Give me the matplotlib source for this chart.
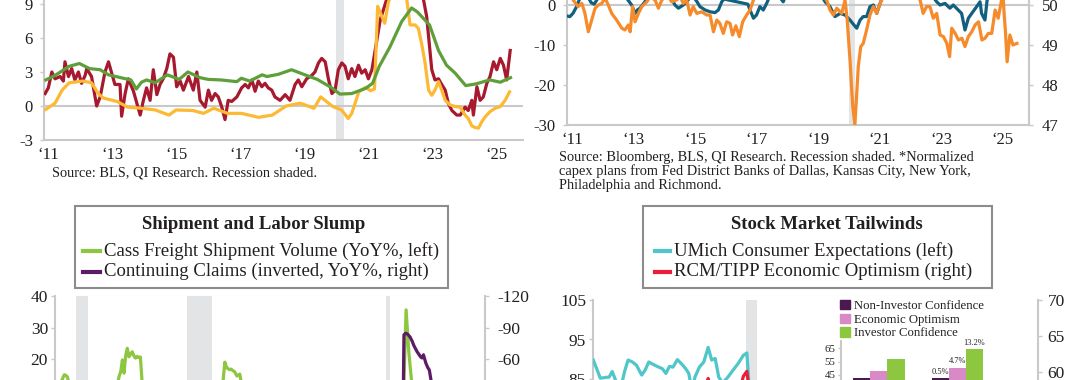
import matplotlib
matplotlib.use('Agg')
import matplotlib.pyplot as plt
from matplotlib.patches import Rectangle, Patch
from matplotlib.lines import Line2D

plt.rcParams['font.family'] = ['Liberation Serif', 'DejaVu Serif']
plt.rcParams['axes.unicode_minus'] = False

# ---------------- data ----------------
# top left panel (YoY %, recession shaded)
red_x = [2010.91, 2011.01, 2011.12, 2011.22, 2011.38, 2011.48, 2011.53, 2011.64, 2011.74, 2011.84,
         2011.95, 2012.05, 2012.16, 2012.21, 2012.36, 2012.52, 2012.63, 2012.78, 2012.89, 2012.99,
         2013.09, 2013.25, 2013.30, 2013.41, 2013.51, 2013.67, 2013.88, 2013.98, 2014.08, 2014.19,
         2014.29, 2014.40, 2014.50, 2014.60, 2014.71, 2014.81, 2014.92, 2015.02, 2015.13, 2015.23,
         2015.39, 2015.54, 2015.65, 2015.75, 2015.91, 2016.01, 2016.11, 2016.22, 2016.32, 2016.43,
         2016.53, 2016.63, 2016.74, 2016.90, 2017.05, 2017.16, 2017.26, 2017.37, 2017.47, 2017.57,
         2017.68, 2017.78, 2017.88, 2017.99, 2018.09, 2018.25, 2018.41, 2018.56, 2018.72, 2018.82,
         2018.93, 2019.08, 2019.24, 2019.34, 2019.45, 2019.55, 2019.66, 2019.76, 2019.87, 2019.97,
         2020.07, 2020.18, 2020.28, 2020.38, 2020.49, 2020.59, 2020.70, 2020.80, 2020.91, 2021.01,
         2021.12, 2021.22, 2021.38, 2021.48, 2021.58, 2021.70, 2021.90, 2022.10, 2022.30, 2022.50,
         2022.65, 2022.73, 2022.83, 2022.99, 2023.09, 2023.20, 2023.30, 2023.41, 2023.51, 2023.62,
         2023.77, 2023.88, 2024.03, 2024.13, 2024.24, 2024.29, 2024.40, 2024.50, 2024.60, 2024.71,
         2024.81, 2024.92, 2025.02, 2025.13, 2025.23, 2025.33, 2025.44]
red_y = [1.1, 1.6, 3.0, 2.4, 2.6, 2.2, 3.9, 2.6, 3.3, 2.3,
         3.0, 2.0, 2.7, 3.3, 2.6, 0.0, 0.8, 3.0, 3.9, 2.9,
         1.9, 1.9, -0.9, 1.1, 2.4, 1.3, -0.8, 0.5, 1.6, 0.5,
         3.2, 1.0, 1.9, 2.4, 3.3, 4.6, 4.3, 1.7, 2.2, 1.4,
         2.6, 1.4, 3.0, 0.5, -0.1, 1.4, 0.5, 1.1, 0.8, -0.1,
         -1.2, 0.5, 0.4, 0.8, 1.6, 1.9, 1.6, 2.3, 1.3, 2.2,
         1.7, 2.0, 1.6, 1.4, 0.8, 0.5, 1.0, 0.5, 1.9, 2.3,
         1.7, 2.4, 2.7, 3.0, 3.8, 4.2, 3.9, 2.4, 1.1, 1.4,
         3.2, 3.8, 3.5, 2.4, 3.3, 2.6, 3.6, 2.9, 3.2, 2.4,
         3.2, 4.9, 7.6, 8.5, 9.4, 10.6, 11.3, 11.8, 11.2, 10.6,
         9.8, 9.4, 7.9, 3.2, 2.3, 2.4, 1.9, 1.4, 0.2, -0.4,
         -0.8, -0.8, -0.1, -0.4, 0.5, -0.8, 1.7, 0.5, 0.8, 2.0,
         2.6, 3.9, 3.2, 4.2, 3.6, 2.3, 4.9]

green_x = [2010.93, 2011.22, 2011.66, 2011.98, 2012.30, 2012.63, 2012.89, 2013.27, 2013.59, 2013.76,
           2013.92, 2014.08, 2014.35, 2014.73, 2015.10, 2015.37, 2015.75, 2016.00, 2016.40, 2016.90,
           2017.04, 2017.30, 2017.69, 2017.84, 2018.20, 2018.61, 2018.98, 2019.41, 2019.84, 2020.12,
           2020.49, 2020.92, 2021.14, 2021.35, 2021.68, 2022.05, 2022.36, 2022.54, 2022.92, 2023.20,
           2023.45, 2023.72, 2024.05, 2024.37, 2024.80, 2025.13, 2025.45]
green_y = [2.3, 2.7, 3.5, 3.75, 3.3, 3.2, 2.75, 2.5, 2.3, 1.5,
           2.1, 2.3, 2.05, 2.75, 2.35, 3.0, 2.5, 2.35, 2.3, 2.15,
           2.45, 2.2, 2.75, 2.6, 2.8, 3.2, 2.8, 2.35, 1.65, 1.05,
           1.1, 1.55, 2.0, 3.5, 5.2, 7.45, 8.65, 8.3, 7.15, 4.9,
           3.6, 2.9, 1.8, 1.95, 2.3, 2.1, 2.5]

yellow_x = [2010.93, 2011.22, 2011.44, 2011.66, 2012.09, 2012.36, 2012.57, 2012.73, 2013.16, 2013.49,
            2013.92, 2014.35, 2014.78, 2015.00, 2015.53, 2015.86, 2016.18, 2016.61, 2017.04, 2017.58,
            2018.01, 2018.44, 2018.88, 2019.31, 2019.52, 2019.90, 2020.17, 2020.38, 2020.49, 2020.71,
            2020.92, 2021.08, 2021.20, 2021.30, 2021.43, 2021.52, 2021.63, 2021.80, 2022.00, 2022.15,
            2022.21, 2022.31, 2022.47, 2022.57, 2022.68, 2022.78, 2022.89, 2022.99, 2023.09, 2023.20,
            2023.30, 2023.41, 2023.56, 2023.72, 2023.88, 2024.03, 2024.13, 2024.24, 2024.34, 2024.45,
            2024.55, 2024.66, 2024.81, 2024.97, 2025.13, 2025.28, 2025.42]
yellow_y = [-0.3, 0.25, 1.4, 2.05, 2.2, 2.05, 1.1, 0.7, 0.4, -0.1,
            -0.2, -0.35, -0.8, -0.35, -0.4, -0.65, -0.2, -0.65, -0.65, -1.0,
            -0.8, 0.0, 0.25, -0.2, 0.8, -0.05, -0.35, -1.1, -0.65, 1.25,
            1.65, 1.35, 1.5, 8.8, 7.9, 7.3, 9.1, 10.5, 11.5, 10.4,
            9.4, 7.15, 7.15, 6.85, 5.4, 3.8, 1.4, 0.95, 1.4, 2.15,
            1.4, 0.5, 0.1, -0.05, -0.1, -0.8, -1.1, -1.75, -1.9, -1.95,
            -1.4, -0.95, -0.5, -0.2, -0.05, 0.5, 1.25]

# top right panel: capex plans and second survey (both read on the left scale)
capex_x = [2010.84, 2010.93, 2011.03, 2011.15, 2011.26, 2011.45, 2011.62, 2011.72, 2011.85, 2012.10,
           2012.40, 2012.70, 2012.94, 2013.05, 2013.13, 2013.21, 2013.37, 2013.60, 2013.90, 2014.20,
           2014.35, 2014.46, 2014.62, 2014.73, 2014.90, 2015.05, 2015.16, 2015.33, 2015.49, 2015.65,
           2015.76, 2015.87, 2016.10, 2016.40, 2016.60, 2016.72, 2016.79, 2016.90, 2017.00, 2017.11,
           2017.22, 2017.33, 2017.50, 2017.75, 2017.87, 2018.00, 2018.40, 2018.80, 2019.10, 2019.23,
           2019.39, 2019.55, 2019.72, 2019.88, 2020.04, 2020.17, 2020.26, 2020.37, 2020.47, 2020.58,
           2020.69, 2020.80, 2020.91, 2021.02, 2021.20, 2021.60, 2022.00, 2022.40, 2022.70, 2022.86,
           2022.97, 2023.13, 2023.29, 2023.40, 2023.56, 2023.67, 2023.78, 2023.89, 2024.00, 2024.16,
           2024.27, 2024.32, 2024.43, 2024.50, 2024.70, 2025.00, 2025.20, 2025.45]
capex_y = [-2.75, -2.9, -2.1, -0.4, 1.8, 3.0, 0.6, 0.2, 1.8, 4.0,
           4.5, 2.5, 0.0, -2.1, -1.2, -0.8, 0.8, 3.5, 4.0, 2.0,
           0.0, -0.8, 0.0, 0.8, 2.5, 1.0, -0.4, -1.25, -1.7, -1.9,
           -1.25, 0.8, 3.0, 2.5, 1.5, 0.2, -1.25, -3.3, -2.5, -0.4,
           -1.25, 0.4, 3.5, 2.0, 0.8, 3.5, 7.0, 6.0, 2.5, 0.8,
           -0.4, -2.9, -2.1, -2.5, -3.75, -5.0, -5.8, -3.75, -2.9, -2.9,
           -0.4, 0.0, -2.1, 0.4, 4.0, 9.0, 10.0, 7.0, 2.5, 0.8,
           0.0, 0.4, -0.8, 0.0, -1.25, -2.1, -6.25, -3.3, -2.1, -0.4,
           0.8, -2.1, -3.75, 1.25, 4.0, 5.0, 3.0, 4.0]

survey_x = [2011.04, 2011.20, 2011.32, 2011.42, 2011.53, 2011.64, 2011.75, 2011.86, 2011.97, 2012.07,
            2012.18, 2012.29, 2012.45, 2012.62, 2012.72, 2012.83, 2012.89, 2012.97, 2013.05, 2013.16,
            2013.27, 2013.43, 2013.54, 2013.70, 2013.81, 2013.92, 2014.10, 2014.24, 2014.40, 2014.52,
            2014.62, 2014.73, 2014.84, 2014.94, 2015.06, 2015.22, 2015.38, 2015.49, 2015.60, 2015.71,
            2015.81, 2015.92, 2016.03, 2016.14, 2016.22, 2016.33, 2016.44, 2016.55, 2016.68, 2016.79,
            2016.90, 2017.10, 2017.50, 2018.00, 2018.50, 2019.00, 2019.20, 2019.28, 2019.39, 2019.50,
            2019.61, 2019.77, 2019.88, 2019.95, 2020.04, 2020.13, 2020.20, 2020.31, 2020.39, 2020.47,
            2020.58, 2020.69, 2020.80, 2020.91, 2021.02, 2021.07, 2021.30, 2021.80, 2022.10, 2022.32,
            2022.42, 2022.53, 2022.64, 2022.75, 2022.86, 2022.97, 2023.08, 2023.19, 2023.28, 2023.35,
            2023.46, 2023.57, 2023.68, 2023.78, 2023.89, 2024.00, 2024.11, 2024.22, 2024.33, 2024.43,
            2024.54, 2024.65, 2024.76, 2024.86, 2024.97, 2025.02, 2025.06, 2025.10, 2025.15, 2025.24,
            2025.34, 2025.47]
survey_y = [1.25, -0.4, 0.4, -2.1, -6.7, -3.75, -0.8, 0.0, 0.4, 1.8,
            0.0, -2.1, -3.75, -5.8, -6.25, -5.0, -6.7, -0.4, -4.2, -2.1,
            -0.4, 0.8, 2.0, 1.25, -0.8, 1.25, 2.5, 0.8, 1.25, 2.0,
            0.4, 1.25, -2.5, -0.4, -2.1, -1.7, -2.5, -2.5, -6.7, -3.75,
            -4.6, -7.1, -4.2, -4.6, -7.5, -5.2, -7.9, -4.2, -2.5, -1.25,
            1.25, 3.5, 4.5, 5.0, 4.0, 2.5, 1.8, 1.25, -1.25, -2.5,
            -0.8, -2.1, 1.25, -3.75, -13.75, -25.4, -30.0, -15.4, -10.4, -9.6,
            -6.25, -2.5, -0.4, -2.1, 0.4, 1.25, 4.0, 6.0, 3.5, 1.25,
            -2.1, -0.4, -0.4, -3.3, -2.1, -7.5, -7.9, -9.6, -12.9, -5.8,
            -7.1, -8.75, -8.3, -10.4, -7.9, -6.7, -5.0, -4.2, -8.75, -8.3,
            -7.1, -7.1, -1.25, -3.3, 1.25, 2.0, -2.9, -7.1, -14.2, -7.5,
            -10.0, -9.6]

# bottom left: Shipment and Labor Slump
cass_x = [1999.9, 2000.1, 2000.3, 2000.45, 2000.55, 2000.65, 2000.8, 2001.0, 2001.5, 2002.0,
          2002.5, 2003.0, 2003.5, 2003.7, 2003.8, 2003.9, 2004.0, 2004.1, 2004.2, 2004.3,
          2004.4, 2004.5, 2004.6, 2004.7, 2004.8, 2004.9, 2005.0, 2005.1, 2005.2, 2005.35,
          2005.7, 2006.2, 2006.8, 2007.5, 2008.2, 2008.8, 2009.3, 2009.8, 2010.0, 2010.15,
          2010.26, 2010.35, 2010.43, 2010.55, 2010.63, 2010.75, 2010.85, 2011.0, 2011.17, 2011.3,
          2011.6, 2012.2, 2013.0, 2013.8, 2014.5, 2015.3, 2016.0, 2016.8, 2017.6, 2018.3,
          2019.0, 2019.7, 2020.1, 2020.35, 2020.7, 2021.0, 2021.2, 2021.33, 2021.5, 2021.7,
          2022.0, 2022.6, 2023.2, 2023.8, 2024.4, 2025.0, 2025.45]
cass_y = [9.0, 12.0, 13.2, 15.0, 14.8, 14.2, 10.5, 3.0, -6.0, -3.0,
          2.0, 4.0, 8.5, 12.0, 14.5, 16.0, 19.7, 15.5, 21.0, 23.4,
          20.7, 21.5, 22.3, 21.0, 20.3, 20.8, 20.5, 20.6, 13.0, 9.0,
          5.0, 1.0, -2.0, -3.5, -5.0, -10.0, -20.0, -10.0, 5.0, 13.0,
          19.0, 17.5, 17.0, 16.6, 16.8, 16.3, 16.0, 14.6, 15.2, 11.5,
          8.0, 4.0, 2.5, 4.0, 5.0, -2.0, -5.0, -1.0, 6.0, 9.0,
          -2.0, -4.5, -7.0, -22.0, -8.0, 2.0, 12.0, 35.6, 22.0, 11.0,
          4.0, -2.0, -6.5, -7.0, -4.0, -5.0, -4.5]

claims_x = [1999.9, 2000.5, 2001.0, 2001.5, 2002.0, 2002.5, 2003.0, 2003.5, 2004.0, 2004.5,
            2005.0, 2005.5, 2006.0, 2006.5, 2007.0, 2007.5, 2008.0, 2008.5, 2009.0, 2009.5,
            2010.0, 2010.5, 2011.0, 2011.5, 2012.0, 2012.5, 2013.0, 2013.5, 2014.0, 2014.5,
            2015.0, 2015.5, 2016.0, 2016.5, 2017.0, 2017.5, 2018.0, 2018.5, 2019.0, 2019.5,
            2020.0, 2020.3, 2020.5, 2020.8, 2021.0, 2021.1, 2021.17, 2021.2, 2021.3, 2021.4,
            2021.57, 2021.7, 2021.8, 2022.0, 2022.22, 2022.3, 2022.39, 2022.54, 2022.65, 2022.75,
            2022.85, 2023.0, 2023.3, 2023.6, 2024.0, 2024.5, 2025.0, 2025.45]
claims_y = [-5, 0, 35, 60, 40, 15, 5, 3, -10, -12,
            -8, -7, -6, -5, 4, 8, 15, 35, 70, 85,
            30, -10, -15, -14, -12, -10, -8, -12, -14, -12,
            -10, -6, -3, -4, -5, -6, -6, -7, -3, -1,
            2, 900, 700, 350, 190, 160, -43, -83, -84.5, -84,
            -81, -77, -73, -67, -62, -61, -64, -56, -52, -49.5,
            -40, -25, -10, -2, 8, 6, 7, 5]

recessions = [(2001.17, 2001.92), (2007.92, 2009.5), (2020.08, 2020.33)]

# bottom right: Stock Market Tailwinds
umich_x = [2016.61, 2016.77, 2016.89, 2016.97, 2017.04, 2017.14, 2017.22, 2017.32, 2017.40, 2017.50,
           2017.59, 2017.71, 2017.79, 2017.87, 2017.97, 2018.06, 2018.18, 2018.26, 2018.34, 2018.42,
           2018.52, 2018.61, 2018.71, 2018.78, 2018.85, 2018.92, 2019.02, 2019.12, 2019.22, 2019.30,
           2019.38, 2019.46, 2019.55, 2019.67, 2019.79, 2019.90, 2020.02, 2020.10, 2020.18, 2020.27,
           2020.50, 2021.00, 2021.50, 2022.00, 2022.50, 2023.00, 2023.50, 2024.00, 2024.50, 2025.00,
           2025.45]
umich_y = [89.8, 85.2, 85.4, 85.5, 86.9, 84.0, 82.0, 86.9, 89.8, 89.3,
           88.5, 86.0, 87.3, 89.3, 88.7, 88.2, 87.6, 86.4, 88.2, 88.0,
           89.9, 88.9, 87.6, 86.4, 82.0, 85.5, 88.0, 89.3, 93.0, 89.8,
           90.2, 85.5, 84.0, 85.5, 87.3, 88.9, 91.0, 91.6, 78.0, 70.0,
           72.0, 66.0, 78.0, 64.0, 55.0, 63.0, 65.0, 70.0, 72.0, 62.0,
           58.0]

tipp_x = [2016.61, 2016.75, 2016.90, 2017.00, 2017.20, 2017.40, 2017.60, 2017.80, 2018.00, 2018.20,
          2018.40, 2018.60, 2018.80, 2018.95, 2019.05, 2019.13, 2019.22, 2019.30, 2019.40, 2019.55,
          2019.70, 2019.85, 2019.95, 2020.02, 2020.10, 2020.18, 2020.30, 2020.60, 2021.00, 2021.50,
          2022.00, 2022.50, 2023.00, 2023.50, 2024.00, 2024.50, 2025.00, 2025.45]
tipp_y = [47.0, 46.8, 54.5, 56.0, 53.5, 52.0, 50.0, 51.5, 55.0, 54.0,
          55.5, 56.5, 54.0, 52.5, 55.5, 56.8, 59.1, 57.2, 55.5, 54.0,
          55.0, 56.5, 57.8, 59.4, 60.1, 56.0, 50.5, 52.5, 56.0, 51.0,
          46.0, 40.0, 44.0, 43.0, 44.5, 45.0, 48.0, 47.5]

inset_names = ['Non-Investor Confidence', 'Economic Optimism', 'Investor Confidence']
inset_before = [42.8, 48.2, 57.0]
inset_after = [43.0, 50.5, 64.5]
inset_labels = ['0.5%', '4.7%', '13.2%']

# ---------------- styling ----------------
W, H = 1080, 380
GRID = '#c9c9c9'
SHADE = '#e3e4e6'
TEXT = '#231f20'

fig = plt.figure(figsize=(W / 100, H / 100), dpi=100)


def px(x0, x1, y0, y1):
    # pixel box (left, right, top, bottom) -> figure fraction rect
    return [x0 / W, 1 - y1 / H, (x1 - x0) / W, (y1 - y0) / H]


def clean(ax, sides):
    for s in ['top', 'right', 'left', 'bottom']:
        ax.spines[s].set_visible(s in sides)
        ax.spines[s].set_color(GRID)
        ax.spines[s].set_linewidth(1.5)
    ax.set_facecolor('none')


def num(v):
    return '%g' % v


def yr(v):
    return '\u2018%02d' % (int(round(v)) % 100)


# ---- top left ----
ax = fig.add_axes(px(44, 523, -30, 140))
clean(ax, ['left', 'bottom'])
ax.set_xlim(2010.875, 2025.84)
ax.set_ylim(-3, 12)
ax.axvspan(2020.0, 2020.25, color=SHADE, lw=0, zorder=0)
ax.axhline(0, color=GRID, lw=1.5, zorder=1)
ax.plot(red_x, red_y, color='#a6192e', lw=2.3, zorder=3)
ax.plot(yellow_x, yellow_y, color='#fdb933', lw=2.3, zorder=4)
ax.plot(green_x, green_y, color='#5e9f3a', lw=2.3, zorder=5)
yt = [-3, 0, 3, 6, 9]
ax.set_yticks(yt, [num(v) for v in yt])
xt = list(range(2011, 2026, 2))
ax.set_xticks(xt, [yr(v) for v in xt])
ax.tick_params(axis='y', length=3, width=1, color=GRID, labelsize=12, labelcolor=TEXT, pad=5)
ax.tick_params(axis='x', length=0, labelsize=12, labelcolor=TEXT, pad=5)
fig.text(52 / W, 1 - 173 / H, 'Source: BLS, QI Research. Recession shaded.',
         fontsize=10.4, color=TEXT, va='center')

# ---- top right ----
ax = fig.add_axes(px(567, 1029, -35, 125))
clean(ax, ['left', 'bottom'])
ax.set_xlim(2010.837, 2025.862)
ax.set_ylim(-30, 10)
ax.axvspan(2020.0, 2020.2, color=SHADE, lw=0, zorder=0)
ax.axhline(0, color=GRID, lw=1.5, zorder=1)
ax.plot(capex_x, capex_y, color='#11607f', lw=2.3, zorder=3)
ax.plot(survey_x, survey_y, color='#f68b2c', lw=2.3, zorder=4)
yt = [-30, -20, -10, 0]
ax.set_yticks(yt, [num(v) for v in yt])
ax.set_xticks(xt, [yr(v) for v in xt])
ax.tick_params(axis='y', length=3, width=1, color=GRID, labelsize=12, labelcolor=TEXT, pad=5)
ax.tick_params(axis='x', length=0, labelsize=12, labelcolor=TEXT, pad=5)
axr = ax.twinx()
clean(axr, ['right'])
axr.set_ylim(47, 51)
yt = [47, 48, 49, 50]
axr.set_yticks(yt, [num(v) for v in yt])
axr.tick_params(axis='y', length=3, width=1, color=GRID, labelsize=12, labelcolor=TEXT, pad=6)
src = ['Source: Bloomberg, BLS, QI Research. Recession shaded. *Normalized',
       'capex plans from Fed District Banks of Dallas, Kansas City, New York,',
       'Philadelphia and Richmond.']
for i, line in enumerate(src):
    fig.text(559 / W, 1 - (157 + 14 * i) / H, line, fontsize=10.4, color=TEXT, va='center')

# ---- bottom left ----
ax = fig.add_axes(px(55, 484.5, 296, 516.5))
clean(ax, ['left'])
ax.set_xlim(1999.884, 2026.12)
ax.set_ylim(-30, 40)
for a, b in recessions:
    ax.axvspan(a, b, color=SHADE, lw=0, zorder=0)
ax.plot(cass_x, cass_y, color='#8dc63f', lw=2.3, zorder=3)
yt = [20, 30, 40]
ax.set_yticks(yt, [num(v) for v in yt])
ax.set_xticks([])
ax.tick_params(axis='y', length=3, width=1, color=GRID, labelsize=12.5, labelcolor=TEXT, pad=2)
axr = ax.twinx()
clean(axr, ['right'])
axr.set_ylim(90, -120)
axr.plot(claims_x, claims_y, color='#5c1a68', lw=2.3, zorder=4)
yt = [-120, -90, -60]
axr.set_yticks(yt, [num(v) for v in yt])
axr.tick_params(axis='y', length=3, width=1, color=GRID, labelsize=12.5, labelcolor=TEXT, pad=6)

# ---- bottom right ----
ax = fig.add_axes(px(593, 1038, 300, 537))
clean(ax, ['left'])
ax.set_xlim(2016.603, 2026.716)
ax.set_ylim(45, 105)
ax.axvspan(2020.08, 2020.33, color=SHADE, lw=0, zorder=0)
ax.plot(umich_x, umich_y, color='#4fc6c9', lw=2.3, zorder=3)
yt = [85, 95, 105]
ax.set_yticks(yt, [num(v) for v in yt])
ax.set_xticks([])
ax.tick_params(axis='y', length=3, width=1, color=GRID, labelsize=12.5, labelcolor=TEXT, pad=2)
axr = ax.twinx()
clean(axr, ['right'])
axr.set_ylim(37.08, 70)
axr.plot(tipp_x, tipp_y, color='#ed1c3a', lw=2.3, zorder=4)
yt = [60, 65, 70]
axr.set_yticks(yt, [num(v) for v in yt])
axr.tick_params(axis='y', length=3, width=1, color=GRID, labelsize=12.5, labelcolor=TEXT, pad=4)

# inset bar chart
axi = fig.add_axes(px(841, 1000, 341.25, 429))
clean(axi, ['left'])
axi.set_xlim(-0.487, 1.551)
axi.set_ylim(5, 70)
colors = ['#4b1850', '#d889c6', '#8dc63f']
w = 0.218
for i in range(3):
    axi.bar([0 + (i - 1) * w, 1 + (i - 1) * w], [inset_before[i], inset_after[i]], width=w,
            color=colors[i], zorder=3)
for i in range(3):
    axi.annotate(inset_labels[i], (1 + (i - 1) * w, inset_after[i]), xytext=(0, 1.5),
                 textcoords='offset points', ha='center', va='bottom', fontsize=6, color=TEXT)
yt = [45, 55, 65]
axi.set_yticks(yt, [num(v) for v in yt])
axi.set_xticks([])
axi.tick_params(axis='y', length=2, width=1, color=GRID, labelsize=7.8, labelcolor=TEXT, pad=2)
fig.legend([Patch(color=c) for c in colors], inset_names, loc='upper left',
           bbox_to_anchor=(840 / W, 1 - 300 / H), frameon=False, fontsize=9.2,
           handlelength=0.75, handleheight=0.75, handletextpad=0.35, labelspacing=0.12,
           borderpad=0, borderaxespad=0, labelcolor=TEXT)

# ---- title boxes ----
boxes = [
    (75, 448, 254, 'Shipment and Labor Slump',
     [('#8dc63f', 'Cass Freight Shipment Volume (YoY%, left)'),
      ('#5c1a68', 'Continuing Claims (inverted, YoY%, right)')], 83, 100),
    (643, 992, 827, 'Stock Market Tailwinds',
     [('#4fc6c9', 'UMich Consumer Expectations (left)'),
      ('#ed1c3a', 'RCM/TIPP Economic Optimism (right)')], 655, 670),
]
for x0, x1, xc, title, items, h0, h1 in boxes:
    fig.add_artist(Rectangle((x0 / W, 1 - 288 / H), (x1 - x0) / W, 82 / H,
                             transform=fig.transFigure, facecolor='white',
                             edgecolor='#8c8c8c', lw=1.5))
    fig.text(xc / W, 1 - 225 / H, title, ha='center', va='center',
             fontsize=13.5, fontweight='bold', color=TEXT)
    for k, (c, lab) in enumerate(items):
        yy = 1 - (251 + 20.5 * k) / H
        fig.add_artist(Line2D([h0 / W, h1 / W], [yy, yy], color=c, lw=3,
                              transform=fig.transFigure))
        fig.text((h1 + 4) / W, yy, lab, va='center', fontsize=13.5, color=TEXT)

fig.savefig('out.png', dpi=100)
